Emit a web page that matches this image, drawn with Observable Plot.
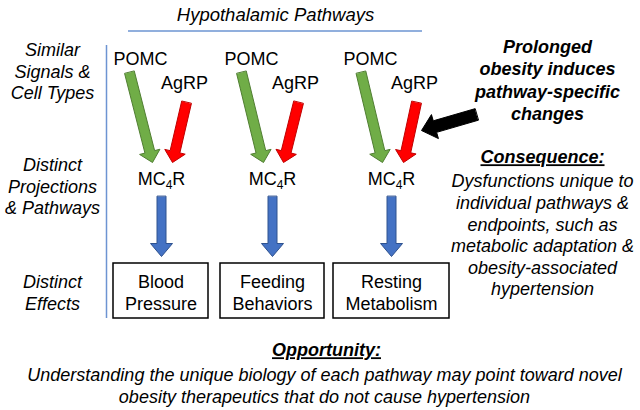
<!DOCTYPE html>
<html>
<head>
<meta charset="utf-8">
<script src="https://cdn.jsdelivr.net/npm/d3@7"></script>
<script src="https://cdn.jsdelivr.net/npm/@observablehq/plot@0.6"></script>
<style>
  html, body { margin: 0; padding: 0; background: #fff; }
  #chart svg { display: block; }
</style>
</head>
<body>
<div id="chart"></div>
<script>
// ---- content (text) ----
const title = "Hypothalamic Pathways";
const rowLabels = ["Similar\nSignals &\nCell Types", "Distinct\nProjections\n& Pathways", "Distinct\nEffects"];
const signalNames = ["POMC", "AgRP"];
const receptorParts = ["MC", "4", "R"];
const receptorName = receptorParts.join("");
const effects = ["Blood\nPressure", "Feeding\nBehaviors", "Resting\nMetabolism"];
const obesityNote = "Prolonged\nobesity induces\npathway-specific\nchanges";
const consequenceHead = "Consequence:";
const consequenceText = "Dysfunctions unique to\nindividual pathways &\nendpoints, such as\nmetabolic adaptation &\nobesity-associated\nhypertension";
const opportunityHead = "Opportunity:";
const opportunityText = "Understanding the unique biology of each pathway may point toward novel\nobesity therapeutics that do not cause hypertension";

// ---- layout (diagram positions in pixel space) ----
const colX = [161, 272, 391];
const boxX1 = [113, 220, 333];
const boxX2 = [208, 324, 449];
const rowY = [70, 185, 291];
const pomcDX = -21, agrpDX = 23;
const greenTop = [129, 241, 360.5], greenTip = [152, 263, 382];
const redTop = [186, 298, 416], redTip = [172, 283, 403];

const colors = {green: "#70ad47", greenEdge: "#507e32", red: "#ff0000", redEdge: "#c00000",
  blue: "#4472c4", blueEdge: "#2f528f", black: "#000000", line: "#6d94d2"};

function arrowPolygon(id, x1, y1, x2, y2, w, hw, hl, fill, stroke) {
  const dx = x2 - x1, dy = y2 - y1, L = Math.hypot(dx, dy);
  const ux = dx / L, uy = dy / L, nx = -uy, ny = ux;
  const bx = x2 - ux * hl, by = y2 - uy * hl;
  const pts = [
    [x1 + nx * w / 2, y1 + ny * w / 2],
    [bx + nx * w / 2, by + ny * w / 2],
    [bx + nx * hw / 2, by + ny * hw / 2],
    [x2, y2],
    [bx - nx * hw / 2, by - ny * hw / 2],
    [bx - nx * w / 2, by - ny * w / 2],
    [x1 - nx * w / 2, y1 - ny * w / 2]
  ];
  return pts.map(([x, y]) => ({id, x, y, fill, stroke}));
}

const arrows = [];
colX.forEach((cx, i) => {
  arrows.push(...arrowPolygon("g" + i, greenTop[i], 72, greenTip[i], 162, 10, 21, 11, colors.green, colors.greenEdge));
  arrows.push(...arrowPolygon("r" + i, redTop[i], 102, redTip[i], 162, 10, 21, 11, colors.red, colors.redEdge));
  arrows.push(...arrowPolygon("b" + i, cx, 196, cx, 256, 9, 22, 13, colors.blue, colors.blueEdge));
});
arrows.push(...arrowPolygon("k", 476, 114, 421, 130, 12, 25, 14, colors.black, colors.black));

const font = "Liberation Sans, Arial, Helvetica, sans-serif";
const fs = 18;

const signalText = [];
colX.forEach((cx) => {
  signalText.push({x: cx + pomcDX, y: 59, t: signalNames[0]});
  signalText.push({x: cx + agrpDX, y: 83, t: signalNames[1]});
  signalText.push({x: cx, y: 179, t: receptorName});
});

const boxes = effects.map((e, i) => ({x1: boxX1[i], x2: boxX2[i], y1: 263, y2: 318, cx: (boxX1[i] + boxX2[i]) / 2, t: e}));

const chart = Plot.plot({
  width: 640,
  height: 410,
  margin: 0,
  x: {domain: [0, 640], range: [0, 640], axis: null},
  y: {domain: [0, 410], range: [0, 410], axis: null},
  color: {type: "identity"},
  style: {background: "#fff", fontFamily: font},
  marks: [
    Plot.text([title], {x: 275, y: 15, text: d => d, fontSize: 18.5, fontStyle: "italic", fill: "#000"}),
    Plot.ruleY([30.5], {x1: 128, x2: 422, stroke: colors.line, strokeWidth: 1.5}),
    Plot.ruleX([106], {y1: 45, y2: 318, stroke: colors.line, strokeWidth: 1.5}),
    Plot.text(rowLabels, {x: 52, y: (d, i) => rowY[i], text: d => d, fontSize: fs, fontStyle: "italic", lineHeight: 1.22, fill: "#000"}),
    Plot.line(arrows, {x: "x", y: "y", z: "id", fill: "fill", stroke: "stroke", strokeWidth: 1, curve: "linear-closed"}),
    Plot.text(signalText, {x: "x", y: "y", text: "t", fontSize: fs, fill: "#000"}),
    Plot.rect(boxes, {x1: "x1", x2: "x2", y1: "y1", y2: "y2", fill: "#fff", stroke: "#000", strokeWidth: 1.5}),
    Plot.text(boxes, {x: "cx", y: 291, text: "t", fontSize: fs, lineHeight: 1.22, fill: "#000"}),
    Plot.text([obesityNote], {x: 547, y: 79, text: d => d, fontSize: fs, fontStyle: "italic", fontWeight: "bold", lineHeight: 1.24, fill: "#000"}),
    Plot.text([consequenceHead], {x: 542, y: 157, text: d => d, fontSize: fs, fontStyle: "italic", fontWeight: "bold", fill: "#000"}),
    Plot.text([consequenceText], {x: 542, y: 234, text: d => d, fontSize: fs, fontStyle: "italic", lineHeight: 1.2, fill: "#000"}),
    Plot.text([opportunityHead], {x: 326, y: 350, text: d => d, fontSize: fs, fontStyle: "italic", fontWeight: "bold", fill: "#000"}),
    Plot.text([opportunityText], {x: 324, y: 384, text: d => d, fontSize: fs, fontStyle: "italic", lineHeight: 1.22, fill: "#000"})
  ]
});

const svg = d3.select(chart);
svg.selectAll("text")
  .filter(function () { return this.textContent === consequenceHead || this.textContent === opportunityHead; })
  .style("text-decoration", "underline");

// render the receptor name with a real subscript
svg.selectAll("text")
  .filter(function () { return this.textContent === receptorName; })
  .each(function () {
    const t = d3.select(this);
    t.text(null);
    t.append("tspan").text(receptorParts[0]);
    t.append("tspan").attr("dy", 4).attr("font-size", 12).text(receptorParts[1]);
    t.append("tspan").attr("dy", -4).text(receptorParts[2]);
  });

document.getElementById("chart").appendChild(chart);
</script>
</body>
</html>
